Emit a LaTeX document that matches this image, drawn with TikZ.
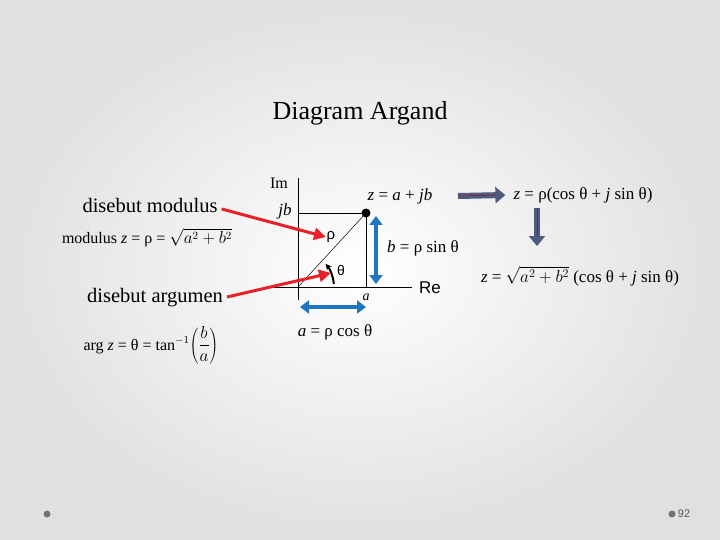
\documentclass[tikz,border=0pt]{standalone}
\usepackage{fontspec}
\setmainfont{Liberation Serif}
\newfontfamily\sansf{Liberation Sans}
\usetikzlibrary{arrows.meta}
\definecolor{redA}{HTML}{E8202A}
\definecolor{blueA}{HTML}{1F75C0}
\definecolor{slate}{HTML}{4E5A7E}
\tikzset{
  redarr/.style={redA,line width=3pt,-{Triangle[length=12pt,width=12pt]}},
  bluearr/.style={blueA,line width=4pt,{Triangle[length=9pt,width=13pt]}-{Triangle[length=9pt,width=13pt]}},
  slatearr/.style={slate,line width=6pt,-{Triangle[length=10pt,width=16pt]}},
  lbl/.style={inner sep=0pt,font=\fontsize{17}{19}\selectfont},
  ax/.style={line width=0.8pt}
}
\newcommand{\zi}{\textit{z}}
\begin{document}
\begin{tikzpicture}[x=1pt,y=-1pt]
\useasboundingbox (0,0) rectangle (720,540);
\shade[inner color=white,outer color=black!12] (0,0) rectangle (720,540);
\node[lbl,font=\fontsize{26}{28}\selectfont] (title) at (360,113) {Diagram Argand};
% axes
\coordinate (O) at (298,287);
\coordinate (P) at (366,213);
\coordinate (imtop) at (298,178);
\coordinate (imbot) at (298,300);
\coordinate (releft) at (270,287);
\coordinate (reright) at (412,287);
\coordinate (jbL) at (298,213);
\coordinate (aB) at (366,287);
\draw[ax] (imbot) -- (imtop);
\draw[ax] (releft) -- (reright);
\draw[ax] (jbL) -- (P) -- (aB);
\draw[line width=0.5pt] (O) -- (P);
\fill (P) circle (4.5);
\node[lbl,font=\fontsize{16}{18}\selectfont] (im) at (279,183) {Im};
\node[lbl] (jb) at (285,211) {\textit{jb}};
\node[lbl,font=\sansf\fontsize{17}{19}\selectfont] (re) at (430,288) {Re};
\node[lbl,font=\sansf\fontsize{15}{17}\selectfont] (rho) at (331,237) {ρ};
\node[lbl,font=\sansf\fontsize{14}{16}\selectfont] (th) at (341,270) {θ};
\node[lbl,font=\fontsize{14}{16}\selectfont] (alab) at (366,297) {\textit{a}};
\draw[line width=2pt,-{Stealth[length=6pt,width=6pt]}] ([shift={(-5:36)}]O) arc[start angle=-5,end angle=-40,radius=36];
\node[lbl] (zab) at (400,196) {\zi\ = \textit{a} + \textit{jb}};
\node[lbl] (bsin) at (423,248) {\textit{b} = ρ sin θ};
\node[lbl] (acos) at (335,332) {\textit{a} = ρ cos θ};
\coordinate (bt) at (376,216); \coordinate (bb) at (376,284);
\draw[bluearr] (bt) -- (bb);
\coordinate (al) at (300,307); \coordinate (ar) at (366,307);
\draw[bluearr] (al) -- (ar);
% left side
\node[lbl,font=\fontsize{20.5}{22}\selectfont] (dm) at (150,205) {disebut modulus};
\node[lbl,font=\fontsize{16}{18}\selectfont] (mod) at (147,238) {modulus \zi\ = ρ = $\sqrt{a^2+b^2}$};
\node[lbl,font=\fontsize{20.5}{22}\selectfont] (da) at (155,298) {disebut argumen};
\node[lbl,font=\fontsize{16}{18}\selectfont] (arg) at (151,345) {arg \zi\ = θ = tan$^{-1}\!\left(\displaystyle\frac{b}{a}\right)$};
\draw[redarr] ([shift={(4,4)}]dm.east) -- (326,237);
\draw[redarr] ([shift={(4,-1)}]da.east) -- (331,273);
% right side
\node[lbl,font=\fontsize{17}{19}\selectfont] (polar) at (583,195) {\zi\ = ρ(cos θ + \textit{j} sin θ)};
\node[lbl,font=\fontsize{17}{19}\selectfont] (full) at (580,276) {\zi\ = $\sqrt{a^2+b^2}$ (cos θ + \textit{j} sin θ)};
\coordinate (s1) at (458,196);
\draw[slatearr] (s1) -- ([xshift=-8pt]polar.west);
\draw[redA!70!black,line width=0.5pt] (s1) -- ([xshift=-18pt]polar.west);
\coordinate (d1) at (537,208); \coordinate (d2) at (537,246);
\draw[slatearr] (d1) -- (d2);
\draw[redA!70!black,line width=0.5pt] (d1) -- (537,236);
% footer
\fill[black!55] (47,514) circle (3.5);
\fill[black!55] (672,514) circle (3.5);
\node[lbl,font=\sansf\fontsize{11}{13}\selectfont,text=black!65] (pg) at (684,514) {92};
\end{tikzpicture}
\end{document}
